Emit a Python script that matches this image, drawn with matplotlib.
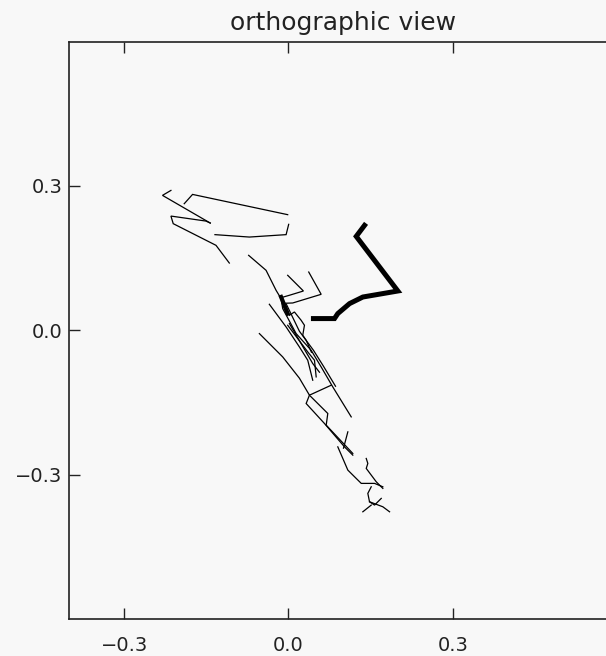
import matplotlib
matplotlib.use("Agg")
import matplotlib.pyplot as plt

# thin traces (projected x, y)
trace_x = [
    [-0.2145, -0.2299, -0.1427],
    [-0.1902, -0.1750, -0.0013],
    [-0.1427, -0.1505, -0.2145, -0.2103, -0.1322, -0.1079],
    [-0.1341, -0.0713, -0.0042, 0.0005],
    [-0.0726, -0.0408, -0.0225, -0.0134, -0.0104, 0.0141, 0.0415, 0.0598, 0.0810, 0.1147],
    [-0.0013, 0.0274, 0.0018, -0.0110],
    [0.0371, 0.0598, 0.0079, -0.0073],
    [-0.0348, -0.0042, 0.0201, 0.0353, 0.0444],
    [-0.0530, -0.0104, 0.0201, 0.0384, 0.0781],
    [0.0018, 0.0110, 0.0232, 0.0293, 0.0262, 0.0324, 0.0421],
    [0.0018, 0.0444, 0.0567],
    [-0.0013, 0.0353, 0.0476, 0.0507],
    [-0.0037, 0.0201, 0.0457, 0.0640, 0.0860],
    [0.0384, 0.0324, 0.0658, 0.1024, 0.1176],
    [0.0402, 0.0719, 0.0690, 0.1176],
    [0.1085, 0.1006],
    [0.0902, 0.1085, 0.1238, 0.1330, 0.1573, 0.1724],
    [0.1421, 0.1450, 0.1421, 0.1604, 0.1724],
    [0.1512, 0.1450, 0.1481, 0.1573, 0.1695],
    [0.1481, 0.1724, 0.1847],
    [0.1359, 0.1512],
]
trace_y = [
    [0.2906, 0.2803, 0.2228],
    [0.2630, 0.2823, 0.2402],
    [0.2228, 0.2269, 0.2373, 0.2215, 0.1765, 0.1397],
    [0.1987, 0.1937, 0.1987, 0.2201],
    [0.1557, 0.1246, 0.0830, 0.0658, 0.0450, -0.0069, -0.0415, -0.0762, -0.1177, -0.1800],
    [0.1142, 0.0816, 0.0727, 0.0685],
    [0.1210, 0.0747, 0.0567, 0.0561],
    [0.0540, 0.0069, -0.0347, -0.0623, -0.1038],
    [-0.0069, -0.0554, -0.0996, -0.1349, -0.1142],
    [0.0311, 0.0380, 0.0208, 0.0104, -0.0104, -0.0208, -0.0457],
    [0.0139, -0.0691, -0.0872],
    [0.0104, -0.0450, -0.0623, -0.0969],
    [0.0540, -0.0021, -0.0415, -0.0747, -0.1163],
    [-0.1349, -0.1522, -0.1937, -0.2423, -0.2595],
    [-0.1370, -0.1729, -0.1972, -0.2560],
    [-0.2111, -0.2450],
    [-0.2423, -0.2906, -0.3079, -0.3182, -0.3182, -0.3253],
    [-0.2664, -0.2767, -0.2871, -0.3149, -0.3286],
    [-0.3253, -0.3390, -0.3564, -0.3633, -0.3494],
    [-0.3564, -0.3668, -0.3772],
    [-0.3772, -0.3633],
]

# short bold piece in the middle of the bundle
blob_x = [-0.0134, -0.0013]
blob_y = [0.0692, 0.0346]

# bold trace
bold_x = [0.1390, 0.1238, 0.1998, 0.1359, 0.1116, 0.0902, 0.0841, 0.0457]
bold_y = [0.2180, 0.1951, 0.0816, 0.0691, 0.0554, 0.0347, 0.0243, 0.0243]

ticks = [-0.3, 0.0, 0.3]
tick_labels = ["\u22120.3", "0.0", "0.3"]

bg = "#f8f8f8"
fig = plt.figure(figsize=(6.06, 6.56), dpi=100, facecolor=bg)
ax = fig.add_axes([0.1144, 0.0564, 0.9038, 0.8803], facecolor=bg)

for xs, ys in zip(trace_x, trace_y):
    ax.plot(xs, ys, color="black", lw=0.9, solid_joinstyle="miter")
ax.plot(blob_x, blob_y, color="black", lw=3.0)
ax.plot(bold_x, bold_y, color="black", lw=3.6, solid_joinstyle="miter")

ax.set_xlim(-0.4, 0.6)
ax.set_ylim(-0.6, 0.6)
ax.set_xticks(ticks)
ax.set_xticklabels(tick_labels)
ax.set_yticks(ticks)
ax.set_yticklabels(tick_labels)

ax.tick_params(direction="in", length=8, width=1.0, color="#222222",
               top=True, right=True, labelsize=14, labelcolor="#222222")
ax.tick_params(axis="x", pad=12)
ax.tick_params(axis="y", pad=5)
for s in ax.spines.values():
    s.set_linewidth(1.2)
    s.set_color("#222222")

ax.set_title("orthographic view", fontsize=18, color="#222222", pad=8)

fig.savefig("out.png", dpi=100, facecolor=bg)
